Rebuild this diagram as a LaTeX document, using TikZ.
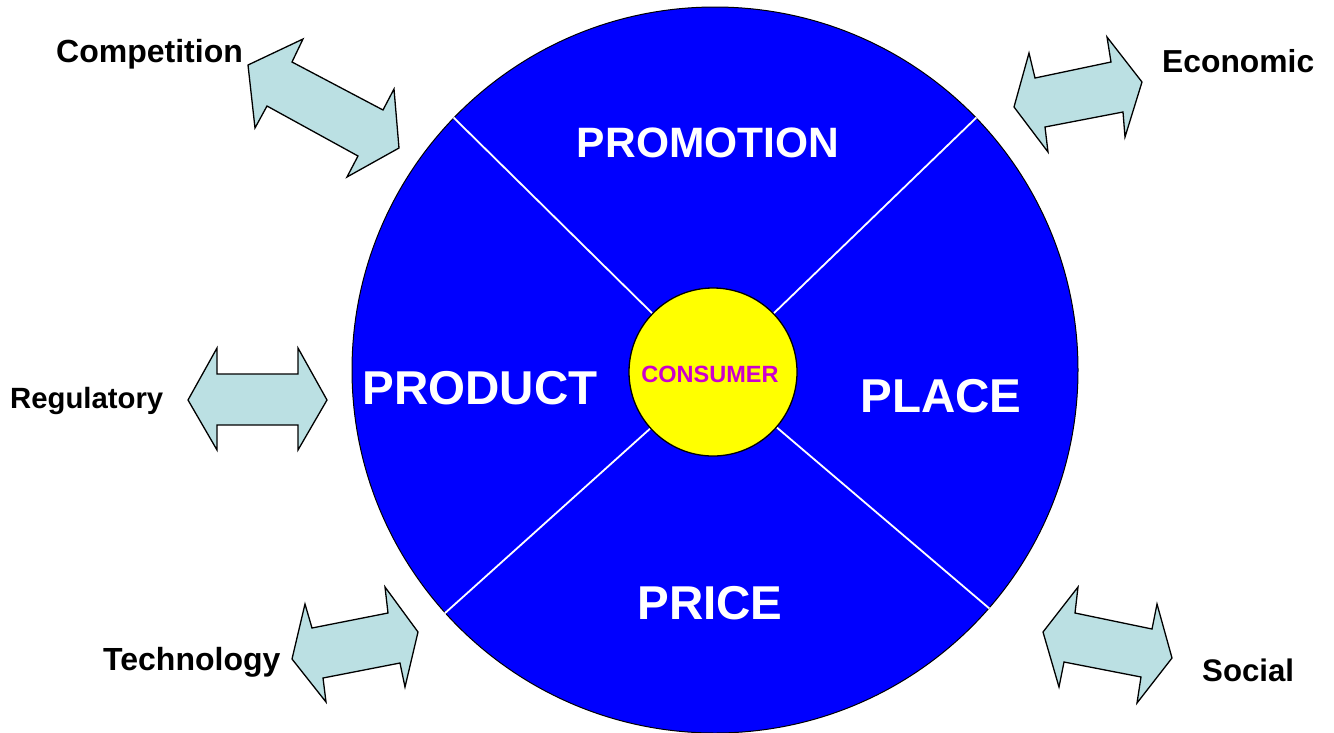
\documentclass[tikz,border=0pt]{standalone}
\usepackage{fontspec}
\setmainfont{Liberation Sans}
\usetikzlibrary{backgrounds}
\definecolor{arrowfill}{RGB}{187,224,227}
\definecolor{bigblue}{RGB}{0,0,255}
\definecolor{consyellow}{RGB}{255,255,0}
\definecolor{conspurple}{RGB}{204,0,204}
\tikzset{
  dblarrow/.style={draw=black, fill=arrowfill, line width=1.3pt, line join=miter},
  divider/.style={draw=white, line width=1.8pt},
  biglabel/.style={text=white, font=\fontsize{47.5}{50}\selectfont\bfseries, anchor=base, inner sep=0pt},
  sidelabel/.style={text=black, anchor=base west, inner sep=0pt},
}
\begin{document}
\begin{tikzpicture}[x=1pt, y=-1pt]
\useasboundingbox (0,0) rectangle (1334,732);
% consumer
\node[circle, draw=black, line width=1.3pt, fill=consyellow, inner sep=0pt, minimum size=168pt] (cons) at (713,372) {};
\begin{scope}[on background layer]
% main circle
\node[circle, draw=black, line width=1pt, fill=bigblue, inner sep=0pt, minimum size=726pt] (mix) at (715,370) {};
% dividers
\draw[divider] (mix.136) -- (cons.136);
\draw[divider] (mix.44) -- (cons.44);
\draw[divider] (mix.222) -- (cons.222);
\draw[divider] (mix.-41.5) -- (cons.-41.5);
\end{scope}
\node[text=conspurple, font=\fontsize{23.5}{26}\selectfont\bfseries, anchor=base, inner sep=0pt] (constext) at (710,382) {CONSUMER};
% quadrant labels
\node[biglabel, font=\fontsize{42.5}{46}\selectfont\bfseries] (promo) at (708,157) {PROMOTION};
\node[biglabel] (prod) at (480,404) {PRODUCT};
\node[biglabel] (place) at (941,412) {PLACE};
\node[biglabel] (price) at (710,619) {PRICE};
% arrows
\draw[dblarrow] (248,65) -- (303,39) -- (292,62) -- (383,110) -- (394,89) -- (399,148) -- (347,177) -- (358,156) -- (267,106) -- (255,128) -- cycle;
\draw[dblarrow] (1014,107) -- (1029,53) -- (1035,78) -- (1111,62) -- (1107,37) -- (1142,82) -- (1125,137) -- (1123,112) -- (1045,127) -- (1048,152) -- cycle;
\draw[dblarrow] (188,400) -- (217,348) -- (217,374) -- (298,374) -- (298,348) -- (327,400) -- (298,450) -- (298,425) -- (217,425) -- (217,450) -- cycle;
\draw[dblarrow] (292,659) -- (305,604) -- (312,628) -- (388,613) -- (385,587) -- (418,632) -- (405,687) -- (400,663) -- (323,678) -- (326,702) -- cycle;
\draw[dblarrow] (1043,632) -- (1078,587) -- (1075,613) -- (1152,629) -- (1157,604) -- (1172,658) -- (1137,703) -- (1141,677) -- (1064,662) -- (1059,687) -- cycle;
% side labels
\node[sidelabel, font=\fontsize{32}{34}\selectfont\bfseries] (comp) at (56,62) {Competition};
\node[sidelabel, font=\fontsize{31.8}{34}\selectfont\bfseries] (econ) at (1162,72) {Economic};
\node[sidelabel, font=\fontsize{29.3}{32}\selectfont\bfseries] (reg) at (10,408) {Regulatory};
\node[sidelabel, font=\fontsize{32}{34}\selectfont\bfseries] (tech) at (103,670) {Technology};
\node[sidelabel, font=\fontsize{31.2}{34}\selectfont\bfseries] (soc) at (1202,681) {Social};
\end{tikzpicture}
\end{document}
